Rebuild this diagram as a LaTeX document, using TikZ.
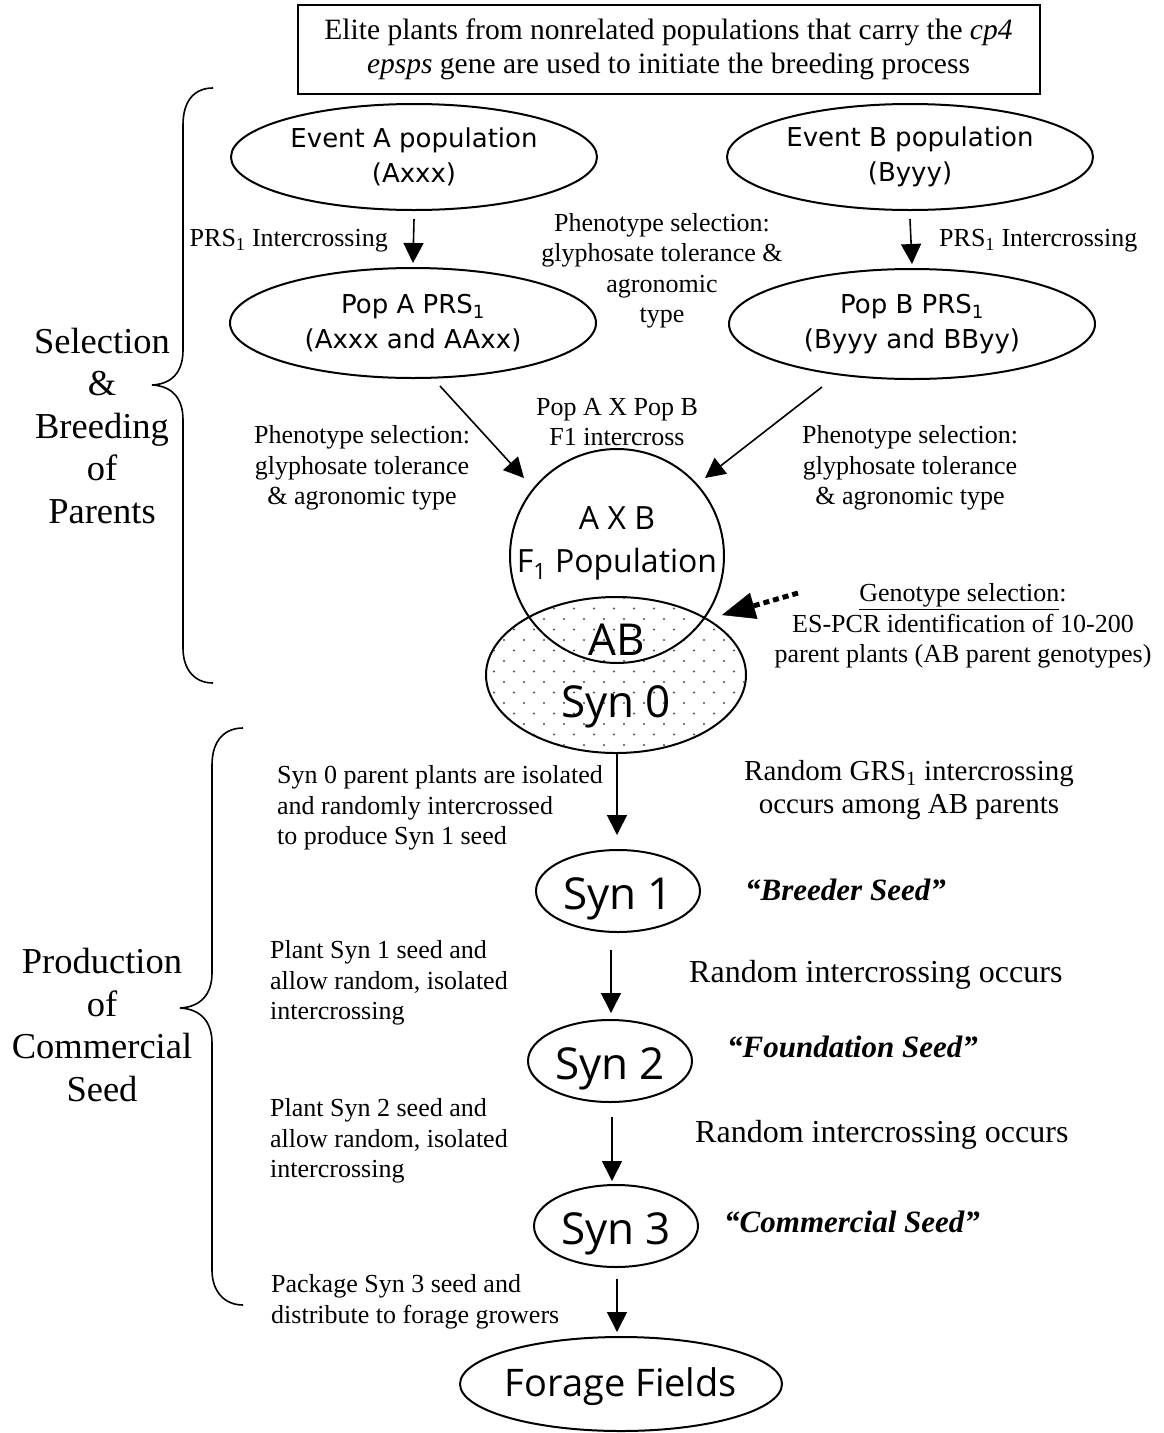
\documentclass[tikz,border=0pt]{standalone}
\usepackage{fontspec}
\setmainfont{Liberation Serif}
\newfontfamily\popfont{DejaVu Sans}
\newfontfamily\synfont{Open Sans}
\usetikzlibrary{shapes.geometric,arrows.meta,calc}

\begin{document}
\begin{tikzpicture}[x=1pt,y=-1pt,
  every node/.style={inner sep=0pt},
  lbl/.style={font=\fontsize{26}{30.5}\selectfont, align=center},
  lblL/.style={font=\fontsize{26}{30.5}\selectfont, align=left, anchor=west},
  side/.style={font=\fontsize{36.5}{42.5}\selectfont, align=center},
  big/.style={font=\fontsize{32}{36}\selectfont, anchor=west},
  seedname/.style={font=\fontsize{31}{34}\selectfont\bfseries\itshape, anchor=west},
  popnode/.style={draw, line width=2pt, ellipse, minimum width=366pt, minimum height=106pt,
                  font=\popfont\fontsize{26}{35}\selectfont, align=center},
  synnode/.style={draw, line width=2pt, ellipse, minimum width=164pt, minimum height=82pt},
  syntext/.style={font=\synfont\fontsize{44}{48}\selectfont},
  arr/.style={line width=1.6pt, -{Triangle[length=20pt,width=20pt]}},
  brace/.style={line width=1.6pt},
]
\useasboundingbox[fill=white] (0,0) rectangle (1164,1433);

% ---- heading box ----
\node[draw, line width=2pt, minimum width=742pt, minimum height=89pt,
      font=\fontsize{29.5}{34}\selectfont, align=center] (topbox) at (668.5,49.5)
  {Elite plants from nonrelated populations that carry the \textit{cp4}\\
   \textit{epsps} gene are used to initiate the breeding process};

% ---- side captions and braces ----
\node[side] (sel) at (102,426) {Selection\\\&\\Breeding\\of\\Parents};
\node[side] (prod) at (102,1025) {Production\\of\\Commercial\\Seed};

\draw[brace] (213,88) .. controls (195,88) and (183,100) .. (183,125) -- (183,350)
  .. controls (183,372) and (172,384) .. (152,385)
  .. controls (172,386) and (183,398) .. (183,420) -- (183,648)
  .. controls (183,670) and (195,683) .. (213,683);
\draw[brace] (243,728) .. controls (225,728) and (212,740) .. (212,765) -- (212,973)
  .. controls (212,995) and (200,1007) .. (180,1008)
  .. controls (200,1009) and (212,1021) .. (212,1043) -- (212,1270)
  .. controls (212,1292) and (225,1305) .. (243,1305);

% ---- starting populations ----
\node[popnode] (eventA) at (414,157) {Event A population\\(Axxx)};
\node[popnode] (eventB) at (910,157) {Event B population\\(Byyy)};
\node[popnode, minimum height=110pt] (popA) at (413,323) {Pop A PRS\textsubscript{1}\\(Axxx and AAxx)};
\node[popnode, minimum height=110pt] (popB) at (912,324) {Pop B PRS\textsubscript{1}\\(Byyy and BByy)};

\draw[arr] ($(eventA.south)+(0,8)$) -- ($(popA.north)+(0,-4)$);
\draw[arr] ($(eventB.south)+(0,8)$) -- ($(popB.north)+(0,-4)$);

\node[lbl, anchor=east] (prsA) at (388,241) {PRS\textsubscript{1} Intercrossing};
\node[lbl, anchor=west] (prsB) at (939,241) {PRS\textsubscript{1} Intercrossing};
\node[lbl] (phenoC) at (662,271) {Phenotype selection:\\glyphosate tolerance \&\\agronomic\\type};

% ---- F1 population and Syn 0 ----
\node[draw, line width=2pt, ellipse, minimum width=260pt, minimum height=156pt] (syn0) at (616,675) {};
\begin{scope}
  \clip (616,675) ellipse [x radius=129pt, y radius=77pt];
  \foreach \r in {0,...,15}{
    \foreach \c in {0,...,14}{
      \fill[black!70] ({484+\c*20+mod(\r,2)*10},{598+\r*10.5}) circle (1.1pt);
    }
  }
\end{scope}
\node[draw, line width=2pt, circle, minimum size=214pt] (f1pop) at (617,556) {};

\node[font=\synfont\fontsize{32}{43}\selectfont, align=center] (axb) at (617,543) {A X B\\F\textsubscript{1} Population};
\node[syntext] (ab) at (617,640) {AB};
\node[syntext] (syn0lbl) at (616,707) {Syn 0};

\node[lbl] (cross) at (617,422) {Pop A X Pop B\\F1 intercross};
\node[lbl] (phenoL) at (362,468) {Phenotype selection:\\glyphosate tolerance\\\& agronomic type};
\node[lbl] (phenoR) at (910,468) {Phenotype selection:\\glyphosate tolerance\\\& agronomic type};

\draw[arr] ($(popA.south)+(27,7)$) -- ($(f1pop.center)+(-93,-78)$);
\draw[arr] ($(popB.south)+(-90,7)$) -- ($(f1pop.center)+(88,-78)$);

% ---- genotype selection ----
\node[lbl] (geno) at (963,626) {\underline{Genotype selection}:\\ES-PCR identification of 10-200\\parent plants (AB parent genotypes)};
\coordinate (gtail) at (798,593);
\coordinate (gtip) at (722,615);
\draw[line width=5pt, dash pattern=on 6pt off 4pt,
      -{Triangle[length=33pt,width=27pt,line width=0.5pt]}] (gtail) -- (gtip);

% ---- synthetic generations ----
\node[synnode, label={[syntext, yshift=-8pt]center:Syn 1}] (syn1) at (618,891) {};
\node[synnode, label={[syntext, yshift=-8pt]center:Syn 2}] (syn2) at (610,1061) {};
\node[synnode, label={[syntext, yshift=-8pt]center:Syn 3}] (syn3) at (616,1226) {};
\node[draw, line width=2pt, ellipse, minimum width=322pt, minimum height=94pt,
      label={[font=\synfont\fontsize{38}{42}\selectfont, yshift=-3pt]center:Forage Fields}] (forage) at (621,1384) {};

\draw[arr] ($(syn0.south)+(1,0)$) -- ($(syn1.north)+(-1,-14)$);
\draw[arr] ($(syn1.south)+(-7,17)$) -- ($(syn2.north)+(1,-6)$);
\draw[arr] ($(syn2.south)+(2,14)$) -- ($(syn3.north)+(-4,-3)$);
\draw[arr] ($(syn3.south)+(1,11)$) -- ($(forage.north)+(-4,-4)$);

\node[lblL] (syn0txt) at (277,808) {Syn 0 parent plants are isolated\\and randomly intercrossed\\to produce Syn 1 seed};
\node[lbl, font=\fontsize{29}{33}\selectfont] (grs) at (909,790) {Random GRS\textsubscript{1} intercrossing\\occurs among AB parents};
\node[seedname] (breeder) at (745,890) {“Breeder Seed”};

\node[lblL] (plant1) at (270,983) {Plant Syn 1 seed and\\allow random, isolated\\intercrossing};
\node[big] (rand1) at (689,975) {Random intercrossing occurs};
\node[seedname] (found) at (727,1047) {“Foundation Seed”};

\node[lblL] (plant2) at (270,1141) {Plant Syn 2 seed and\\allow random, isolated\\intercrossing};
\node[big] (rand2) at (695,1135) {Random intercrossing occurs};
\node[seedname] (comm) at (724,1222) {“Commercial Seed”};

\node[lblL] (pack) at (271,1302) {Package Syn 3 seed and\\distribute to forage growers};
\end{tikzpicture}
\end{document}
